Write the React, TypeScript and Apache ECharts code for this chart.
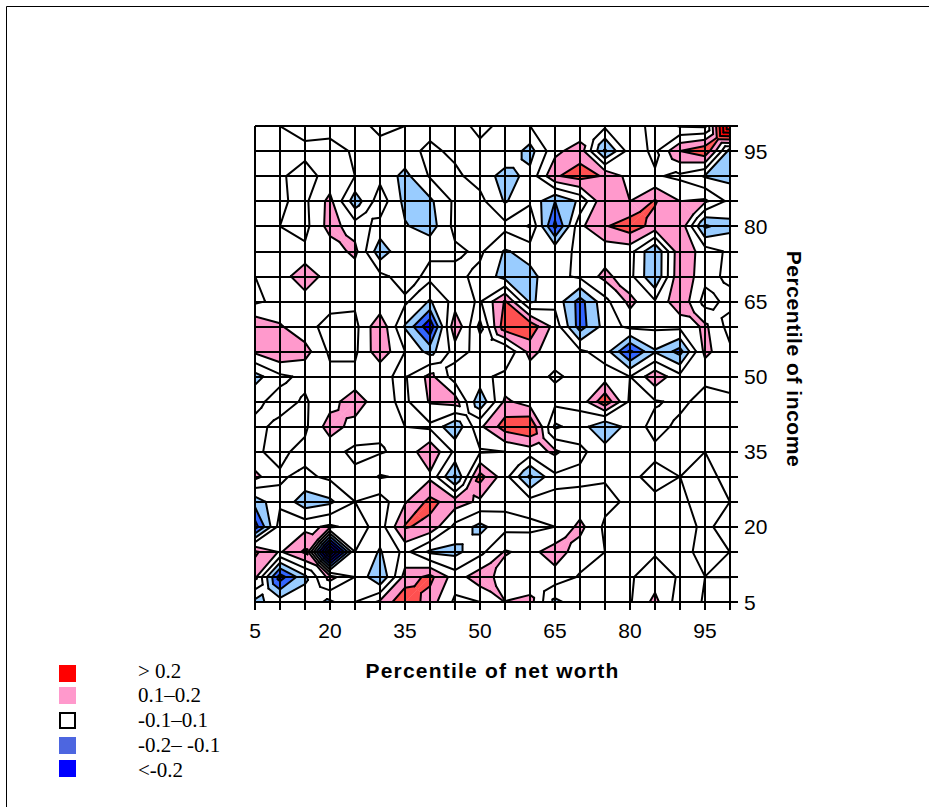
import React, { useEffect, useRef } from "react";
import * as echarts from "echarts";

const percentiles = [5, 10, 15, 20, 25, 30, 35, 40, 45, 50, 55, 60, 65, 70, 75, 80, 85, 90, 95, 100];
const tickLabels = [5, 20, 35, 50, 65, 80, 95];
// correlation x 100; first row is income percentile 100, last is 5; columns net worth 5..100
const row100 = [3, 0, -3, -3, -3, 2, 0, -3, -3, 2, -2, 0, 3, 0, 2, 3, -2, -11, -12, 60];
const row95 = [3, 2, 2, 3, -1, -3, -3, 2, -2, -2, -2, -14, 7, 16, -22, 5, -2, 20, 28, -14];
const row90 = [3, 1, -3, 3, 0, -3, -13, 1, 2, -4, -14, -7, 19, 24, 19, 6, 1, -2, -11, -13];
const row85 = [2, 1, -2, 13, -16, 6, -13, -12, 2, 3, -11, -2, -20, -8, 19, 10, 21, 10, 12, -3];
const row80 = [2, 0, -3, 14, 5, -3, -9, -15, 3, 2, 3, 11, -33, 8, 19, 26, 16, 18, -22, -13];
const row75 = [1, 2, 2, 4, 13, -17, 0, -2, -2, 2, -11, -6, -2, 1, 4, 4, -20, 18, 5, -2];
const row70 = [0, 4, 18, 4, 3, 3, -5, 3, 3, -3, -14, -13, -3, 2, 13, 3, -20, 19, 3, -2];
const row65 = [-2, 3, 4, 3, 2, 2, 2, -11, 4, -1, 21, -12, -3, -24, -3, 13, 1, 18, -4, 3];
const row60 = [18, 11, 3, -3, -3, 18, -11, -38, 19, -13, 27, 27, 6, -25, -6, 3, 2, 3, 12, -4];
const row55 = [12, 19, 14, -2, -2, 17, 0, -14, 4, -3, -10, 14, 3, 2, -5, -32, -11, -24, 13, 2];
const row50 = [-14, -2, 2, 3, 3, 1, -1, 13, -5, -3, 3, 3, -1, 2, 5, 0, 17, 3, 2, 2];
const row45 = [-2, 3, -1, 6, 16, 3, -2, 11, 15, -18, 12, 5, 3, 3, 28, -2, -1, 2, -3, -1];
const row40 = [2, -2, -2, 15, 6, 2, 0, -2, -18, 8, 25, 30, -12, -5, -20, -5, 3, -2, -2, -2];
const row35 = [1, -2, 3, 3, -2, -1, 3, 18, -2, -1, 0, 5, 12, 2, -5, -2, -2, -2, 0, 0];
const row30 = [13, 1, -2, 2, 2, 11, 8, 8, -22, 24, 4, -22, -2, -2, -1, -2, 3, 0, 2, -2];
const row25 = [-16, -2, -16, -12, 0, -5, 9, 23, 15, 8, 2, 4, 2, 3, 3, -2, -2, -1, 2, 0];
const row20 = [-35, 5, 7, 12, 6, -5, 21, 17, -3, -13, -3, -2, 0, 13, -2, -1, -2, -2, 1, -2];
const row15 = [22, 9, 22, -70, 0, -11, 3, -12, -13, -3, 11, 7, 15, 5, 0, -1, -1, -1, 1, 0];
const row10 = [13, -35, -12, 14, 0, -20, 14, 23, 5, 16, 5, 0, 6, -1, -1, -1, 5, -1, 0, 0];
const row5 = [-13, -5, -5, -12, 0, 12, 28, 15, -2, 0, 10.2, 14, -13, -3, -1, -1, 13, -6, 1, 1];
const rows = [row100, row95, row90, row85, row80, row75, row70, row65, row60, row55, row50, row45, row40, row35, row30, row25, row20, row15, row10, row5];

const levels = [-70, -60, -50, -40, -30, -20, -10, 0, 10, 20, 30, 40, 50, 60, 70];
const bands: [number, number, string][] = [
  [-1000, -30, "#0000FF"],
  [-30, -20, "#3366FF"],
  [-20, -10, "#99CCFF"],
  [10, 20, "#FF99CC"],
  [20, 30, "#FF5050"],
  [30, 1000, "#FF0000"],
];
const legendLabels = ["> 0.2", "0.1–0.2", "-0.1–0.1", "-0.2– -0.1", "<-0.2"];
const legendColors = ["#FF0000", "#FF99CC", "#FFFFFF", "#4D66E0", "#0000FF"];

type P = { x: number; y: number; z: number };
const EPS = 0.013;

function clip(poly: P[], level: number, keepAbove: boolean): P[] {
  const out: P[] = [];
  const inside = (p: P) => (keepAbove ? p.z >= level : p.z <= level);
  for (let i = 0; i < poly.length; i++) {
    const a = poly[i];
    const b = poly[(i + 1) % poly.length];
    if (inside(a)) out.push(a);
    if (inside(a) !== inside(b)) {
      const t = (level - a.z) / (b.z - a.z);
      out.push({ x: a.x + t * (b.x - a.x), y: a.y + t * (b.y - a.y), z: level });
    }
  }
  return out;
}

function cellCorners(i: number, j: number): P[] {
  const g = (ci: number, rj: number): P => ({ x: percentiles[ci], y: 100 - rj * 5, z: rows[rj][ci] });
  return [g(i, j), g(i + 1, j), g(i + 1, j + 1), g(i, j + 1)];
}

// Cell pieces: the quad itself, or four triangles round a centre when a level makes a saddle.
function cellPieces(c: P[]): P[][] {
  const saddles = levels.filter((lv) => {
    const h = c.map((p) => p.z >= lv + EPS);
    return h[0] === h[2] && h[1] === h[3] && h[0] !== h[1];
  });
  if (!saddles.length) return [c];
  const z = Math.max((c[0].z + c[1].z + c[2].z + c[3].z) / 4, Math.max(...saddles) + 2);
  const m: P = { x: (c[0].x + c[2].x) / 2, y: (c[0].y + c[2].y) / 2, z };
  return [[c[0], c[1], m], [c[1], c[2], m], [c[2], c[3], m], [c[3], c[0], m]];
}

function crossing(poly: P[], level: number): P[] {
  const pts: P[] = [];
  for (let k = 0; k < poly.length; k++) {
    const a = poly[k];
    const b = poly[(k + 1) % poly.length];
    if (a.z >= level !== b.z >= level) {
      const t = (level - a.z) / (b.z - a.z);
      pts.push({ x: a.x + t * (b.x - a.x), y: a.y + t * (b.y - a.y), z: level });
    }
  }
  return pts;
}

const cells: number[][] = [];
for (let j = 0; j < rows.length - 1; j++) {
  for (let i = 0; i < percentiles.length - 1; i++) {
    cells.push([percentiles[i], 100 - j * 5, i, j]);
  }
}

export default function App() {
  const ref = useRef<HTMLDivElement>(null);
  useEffect(() => {
    const chart = echarts.init(ref.current!, undefined, { renderer: "svg" });
    const axisText = { color: "#000", fontFamily: "Liberation Sans", fontSize: 21 };
    const nameText = { color: "#000", fontFamily: "Liberation Sans", fontSize: 21, fontWeight: "bold" as const };
    const lineBlack = { color: "#000", width: 2 };
    const fmt = (v: number) => (tickLabels.includes(v) ? String(v) : "");
    const legendItems: any[] = [];
    const legendY = [665, 687, 712, 737, 760];
    const textY = [671, 695, 720, 745, 770];
    legendLabels.forEach((label, k) => {
      legendItems.push({
        type: "rect",
        shape: k === 2 ? { x: 60, y: legendY[k] + 1, width: 15, height: 15 } : { x: 59, y: legendY[k], width: 17, height: 17 },
        style: k === 2 ? { fill: "#fff", stroke: "#000", lineWidth: 2 } : { fill: legendColors[k] },
      });
      legendItems.push({
        type: "text",
        x: 138,
        y: textY[k],
        style: { text: label, fill: "#000", font: "21px 'Liberation Serif'", textVerticalAlign: "middle", textAlign: "left" },
      });
    });
    chart.setOption({
      animation: false,
      backgroundColor: "#fff",
      grid: { left: 255, top: 126, width: 475, height: 476, containLabel: false },
      xAxis: {
        type: "value",
        min: 5,
        max: 100,
        interval: 5,
        z: 10,
        position: "bottom",
        axisLine: { show: true, lineStyle: lineBlack },
        axisTick: { show: true, length: 8, lineStyle: lineBlack },
        splitLine: { show: true, lineStyle: lineBlack },
        axisLabel: { ...axisText, margin: 18, formatter: fmt, showMinLabel: true, showMaxLabel: true },
        name: "Percentile of net worth",
        nameLocation: "middle",
        nameGap: 58,
        nameTextStyle: nameText,
      },
      yAxis: {
        type: "value",
        min: 5,
        max: 100,
        interval: 5,
        z: 10,
        position: "right",
        axisLine: { show: true, lineStyle: lineBlack },
        axisTick: { show: true, length: 8, lineStyle: lineBlack },
        splitLine: { show: true, lineStyle: lineBlack },
        axisLabel: { ...axisText, margin: 14, formatter: fmt, showMinLabel: true, showMaxLabel: true },
        name: "Percentile of income",
        nameLocation: "middle",
        nameGap: 54,
        nameRotate: -90,
        nameTextStyle: { ...nameText, padding: [0, 10, 0, 0] },
      },
      graphic: [
        { type: "line", shape: { x1: 6.5, y1: 6.5, x2: 929, y2: 6.5 }, style: { stroke: "#000", lineWidth: 1 } },
        { type: "line", shape: { x1: 6.5, y1: 6.5, x2: 6.5, y2: 807 }, style: { stroke: "#000", lineWidth: 1 } },
        ...legendItems,
      ],
      series: [
        {
          type: "custom",
          z: 1,
          silent: true,
          clip: true,
          encode: { x: 0, y: 1 },
          data: cells,
          renderItem: (params: any, api: any) => {
            const corners = cellCorners(api.value(2), api.value(3));
            const pieces = cellPieces(corners);
            const children: any[] = [];
            for (const piece of pieces) {
              for (const [lo, hi, color] of bands) {
                let poly = clip(piece, lo + EPS, true);
                if (poly.length) poly = clip(poly, hi + EPS, false);
                if (poly.length >= 3) {
                  children.push({
                    type: "polygon",
                    shape: { points: poly.map((p) => api.coord([p.x, p.y])) },
                    style: { fill: color, stroke: color, lineWidth: 0.4 },
                  });
                }
              }
            }
            for (const piece of pieces) {
              for (const lv of levels) {
                const pts = crossing(piece, lv + EPS);
                if (pts.length === 2) {
                  const p = api.coord([pts[0].x, pts[0].y]);
                  const q = api.coord([pts[1].x, pts[1].y]);
                  children.push({
                    type: "line",
                    shape: { x1: p[0], y1: p[1], x2: q[0], y2: q[1] },
                    style: { stroke: "#000", lineWidth: 2, lineCap: "round" },
                  });
                }
              }
            }
            return { type: "group", children };
          },
        },
      ],
    });
    ref.current!.querySelectorAll("text").forEach((t) => {
      if (t.textContent === "Percentile of net worth") t.style.letterSpacing = "1.2px";
      if (t.textContent === "Percentile of income") t.style.letterSpacing = "0.55px";
    });
    return () => chart.dispose();
  }, []);
  return <div ref={ref} style={{ position: "fixed", left: 0, top: 0, width: 929, height: 807 }} />;
}
